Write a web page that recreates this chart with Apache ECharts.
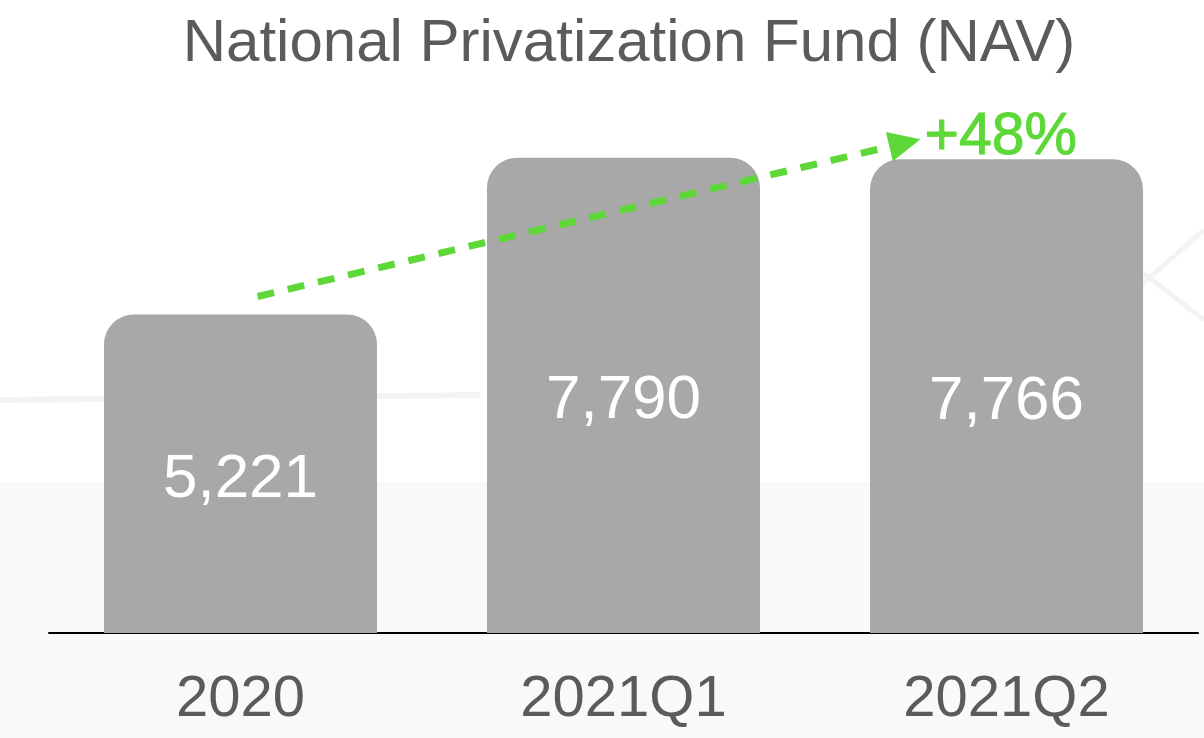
<!DOCTYPE html>
<html>
<head>
<meta charset="utf-8">
<script src="https://cdn.jsdelivr.net/npm/echarts@6/dist/echarts.min.js"></script>
<style>
html,body{margin:0;padding:0;background:#ffffff;}
#c{width:1204px;height:738px;}
</style>
</head>
<body>
<div id="c"></div>
<script>
const titleText = 'National Privatization Fund (NAV)';
const categories = ['2020', '2021Q1', '2021Q2'];
const navValues = [5221, 7790, 7766];
const growthLabel = '+48%';

const FONT = '"Liberation Sans", Arial, Helvetica, sans-serif';
const chart = echarts.init(document.getElementById('c'), null, {renderer: 'canvas'});

const option = {
  backgroundColor: 'transparent',
  animation: false,
  title: {
    text: titleText,
    left: 624, top: 9, textAlign: 'center',
    textStyle: {fontFamily: FONT, fontSize: 60, fontWeight: 'normal', color: '#5b5b5b'}
  },
  grid: {left: 49, right: 6, top: 23, bottom: 105, containLabel: false},
  xAxis: {
    type: 'category',
    data: categories,
    axisLine: {show: true, lineStyle: {color: '#000000', width: 2}},
    axisTick: {show: false},
    axisLabel: {fontFamily: FONT, fontSize: 58, color: '#5b5b5b', margin: 38}
  },
  yAxis: {
    type: 'value', min: 0, max: 10000,
    show: false, splitLine: {show: false}
  },
  series: [{
    type: 'bar',
    data: navValues,
    barWidth: 273,
    itemStyle: {color: '#a7a8a7', borderRadius: [30, 30, 0, 0]},
    label: {
      show: true, position: 'inside', offset: [0, 6],
      fontFamily: FONT, fontSize: 62, color: '#ffffff',
      formatter: p => p.value.toLocaleString('en-US')
    }
  }]
};
chart.setOption(option);

// background decoration + growth arrow (positions derived from the axes)
const p0 = chart.convertToPixel({gridIndex: 0}, [0, navValues[0]]);
const p2 = chart.convertToPixel({gridIndex: 0}, [2, navValues[2]]);
const start = [p0[0] + 17, p0[1] - 18];
const tip = [p2[0] - 86, p2[1] - 20];
const dx = tip[0] - start[0], dy = tip[1] - start[1];
const len = Math.sqrt(dx*dx + dy*dy);
const ux = dx/len, uy = dy/len;
const headLen = 32, headHalf = 15;
const bx = tip[0] - ux*headLen, by = tip[1] - uy*headLen;
const nx = -uy, ny = ux;

chart.setOption({
  graphic: [
    {type: 'rect', z: -10, silent: true, shape: {x: 0, y: 482, width: 1204, height: 256}, style: {fill: '#f9f9f9'}},
    {type: 'line', z: -9, silent: true, shape: {x1: 0, y1: 400, x2: 480, y2: 395}, style: {stroke: '#f3f3f3', lineWidth: 6}},
    {type: 'line', z: -9, silent: true, shape: {x1: 1090, y1: 330, x2: 1204, y2: 230}, style: {stroke: '#f3f3f3', lineWidth: 5}},
    {type: 'line', z: -9, silent: true, shape: {x1: 1100, y1: 240, x2: 1204, y2: 320}, style: {stroke: '#f3f3f3', lineWidth: 5}},
    {type: 'line', z: 10, silent: true,
     shape: {x1: start[0], y1: start[1], x2: bx + ux*2, y2: by + uy*2},
     style: {stroke: '#5dd838', lineWidth: 7, lineDash: [17, 14]}},
    {type: 'polygon', z: 10, silent: true,
     shape: {points: [[tip[0], tip[1]], [bx + nx*headHalf, by + ny*headHalf], [bx - nx*headHalf, by - ny*headHalf]]},
     style: {fill: '#5dd838'}},
    {type: 'text', z: 10, silent: true, x: tip[0] + 4, y: tip[1] - 2,
     style: {text: growthLabel, font: 'normal 59px ' + FONT, fill: '#5dd838', stroke: '#5dd838', lineWidth: 1, textVerticalAlign: 'middle', textAlign: 'left'}}
  ]
});
</script>
</body>
</html>
